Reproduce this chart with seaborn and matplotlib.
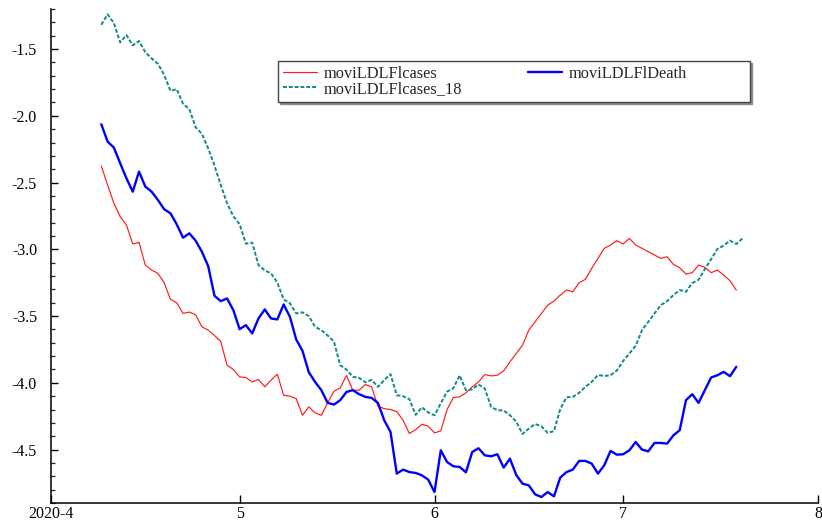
import pandas as pd
import matplotlib
matplotlib.use("Agg")
import matplotlib.pyplot as plt
import matplotlib.dates as mdates
from matplotlib.ticker import FixedLocator, FixedFormatter, MultipleLocator, FormatStrFormatter
import seaborn as sns

# daily series, first value on the start date
start_date = "2020-04-09"

cases = [
    -2.375, -2.518, -2.655, -2.755, -2.818, -2.960, -2.948, -3.118, -3.155, -3.180,
    -3.250, -3.375, -3.400, -3.480, -3.470, -3.490, -3.580, -3.605, -3.645, -3.690,
    -3.868, -3.900, -3.955, -3.960, -3.993, -3.975, -4.030, -3.980, -3.935, -4.093,
    -4.100, -4.118, -4.243, -4.180, -4.225, -4.243, -4.150, -4.063, -4.038, -3.945,
    -4.055, -4.055, -4.013, -4.030, -4.175, -4.193, -4.200, -4.215, -4.280, -4.380,
    -4.350, -4.310, -4.325, -4.375, -4.360, -4.200, -4.110, -4.105, -4.075, -4.030,
    -3.993, -3.938, -3.948, -3.943, -3.910, -3.843, -3.780, -3.718, -3.605, -3.543,
    -3.480, -3.418, -3.388, -3.343, -3.305, -3.318, -3.250, -3.225, -3.143, -3.068,
    -2.993, -2.968, -2.935, -2.960, -2.918, -2.968, -2.993, -3.018, -3.043, -3.068,
    -3.055, -3.113, -3.138, -3.185, -3.175, -3.118, -3.135, -3.175, -3.155, -3.193,
    -3.235, -3.305,
]

death = [
    -2.063, -2.193, -2.238, -2.355, -2.468, -2.568, -2.418, -2.530, -2.568, -2.630,
    -2.700, -2.730, -2.813, -2.913, -2.880, -2.935, -3.018, -3.125, -3.348, -3.388,
    -3.368, -3.455, -3.598, -3.568, -3.630, -3.518, -3.450, -3.518, -3.525, -3.413,
    -3.505, -3.675, -3.760, -3.920, -3.993, -4.055, -4.150, -4.163, -4.130, -4.068,
    -4.055, -4.085, -4.105, -4.113, -4.150, -4.280, -4.368, -4.680, -4.650, -4.668,
    -4.675, -4.693, -4.725, -4.818, -4.505, -4.593, -4.625, -4.630, -4.670, -4.518,
    -4.490, -4.543, -4.550, -4.535, -4.635, -4.568, -4.690, -4.755, -4.768, -4.835,
    -4.855, -4.818, -4.850, -4.710, -4.668, -4.650, -4.585, -4.585, -4.605, -4.680,
    -4.618, -4.510, -4.538, -4.535, -4.505, -4.443, -4.500, -4.513, -4.450, -4.450,
    -4.455, -4.393, -4.355, -4.130, -4.085, -4.150, -4.055, -3.960, -3.943, -3.918,
    -3.950, -3.880,
]

cases_18 = [
    -1.318, -1.240, -1.305, -1.450, -1.395, -1.473, -1.440, -1.523, -1.570, -1.610,
    -1.693, -1.813, -1.800, -1.910, -1.950, -2.085, -2.135, -2.243, -2.372, -2.518,
    -2.655, -2.752, -2.812, -2.958, -2.949, -3.118, -3.158, -3.180, -3.250, -3.375,
    -3.403, -3.480, -3.472, -3.500, -3.580, -3.605, -3.645, -3.690, -3.868, -3.900,
    -3.955, -3.962, -3.996, -3.978, -4.030, -3.980, -3.935, -4.093, -4.100, -4.122,
    -4.240, -4.183, -4.222, -4.243, -4.153, -4.066, -4.040, -3.944, -4.055, -4.049,
    -4.012, -4.043, -4.180, -4.205, -4.207, -4.243, -4.290, -4.383, -4.343, -4.308,
    -4.325, -4.375, -4.362, -4.197, -4.108, -4.105, -4.075, -4.030, -3.993, -3.941,
    -3.949, -3.943, -3.908, -3.837, -3.780, -3.722, -3.605, -3.543, -3.480, -3.418,
    -3.388, -3.343, -3.305, -3.318, -3.253, -3.228, -3.149, -3.074, -2.997, -2.972,
    -2.935, -2.960, -2.918,
]

month_ticks = ["2020-04-01", "2020-05-01", "2020-06-01", "2020-07-01", "2020-08-01"]
month_labels = ["2020-4", "5", "6", "7", "8"]
y_major = [-1.5, -2.0, -2.5, -3.0, -3.5, -4.0, -4.5]

labels = ["moviLDLFlcases", "moviLDLFlDeath", "moviLDLFlcases_18"]


def frame(name, values):
    return pd.DataFrame({
        "date": pd.date_range(start_date, periods=len(values), freq="D"),
        "value": values,
        "series": name,
    })


df = pd.concat([frame(labels[0], cases), frame(labels[1], death), frame(labels[2], cases_18)],
               ignore_index=True)

sns.set_style("ticks")
plt.rcParams["font.family"] = ["Liberation Serif", "DejaVu Serif"]
plt.rcParams["axes.linewidth"] = 1.1

fig = plt.figure(figsize=(8.22, 5.22), dpi=100)
ax = fig.add_axes([51 / 822, 19 / 522, 767 / 822, 494 / 522])

styles = {
    labels[0]: dict(color="#ff1a1a", linewidth=0.85, linestyle="-"),
    labels[1]: dict(color="#0000ff", linewidth=1.7, linestyle="-"),
    labels[2]: dict(color="#108a8a", linewidth=1.4, linestyle=(0, (2, 1))),
}
handles = {}
for name in labels:
    sub = df[df["series"] == name]
    sns.lineplot(data=sub, x="date", y="value", ax=ax, label=name, **styles[name])
for line in ax.get_lines():
    handles[line.get_label()] = line

ax.set_xlim(mdates.date2num(pd.Timestamp(month_ticks[0])), mdates.date2num(pd.Timestamp(month_ticks[-1])))
ax.set_ylim(-4.9, -1.2)

ax.xaxis.set_major_locator(FixedLocator([mdates.date2num(pd.Timestamp(t)) for t in month_ticks]))
ax.xaxis.set_major_formatter(FixedFormatter(month_labels))
ax.yaxis.set_major_locator(FixedLocator(y_major))
ax.yaxis.set_major_formatter(FormatStrFormatter("%.1f"))
ax.yaxis.set_minor_locator(MultipleLocator(0.1))

ax.tick_params(axis="x", which="major", direction="in", length=6, width=1.0, pad=2,
               labelsize=11.5, colors="black")
ax.tick_params(axis="y", which="major", direction="in", length=5, width=1.0, pad=10,
               labelsize=11.5, colors="black")
ax.tick_params(axis="y", which="minor", direction="in", length=3, width=0.9)
ax.set_xlabel("")
ax.set_ylabel("")
for side in ("top", "right"):
    ax.spines[side].set_visible(False)
for side in ("left", "bottom"):
    ax.spines[side].set_color("black")

order = [labels[0], labels[2], labels[1]]
leg = ax.legend([handles[n] for n in order], order, ncol=2, loc="upper left",
                bbox_to_anchor=((278 - 51) / 767, (503 - 61) / 494),
                borderaxespad=0, fontsize=11.8, frameon=True, fancybox=False,
                edgecolor="#444444", framealpha=1, handlelength=2.1, handletextpad=0.4,
                columnspacing=4.0, labelspacing=-0.05, borderpad=0.3,
                shadow={"ox": 1.5, "oy": -1.5, "color": "0.55", "alpha": 1})
leg.get_frame().set_linewidth(1.0)

# the legend box leaves extra room to the right of the last column
_set_bounds = leg.legendPatch.set_bounds


def _wide_bounds(*args):
    x, y, w, h = args[0] if len(args) == 1 else args
    _set_bounds(x, y, w + 58, h)


leg.legendPatch.set_bounds = _wide_bounds

fig.savefig("out.png", dpi=100)
